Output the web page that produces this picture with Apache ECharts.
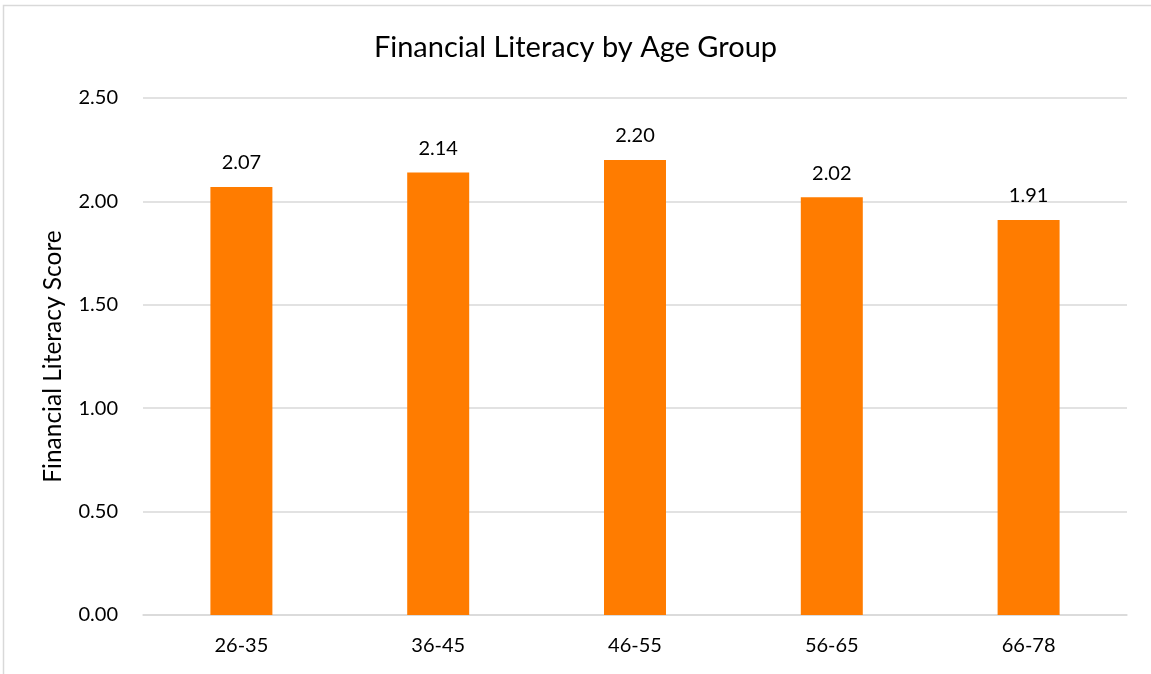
<!DOCTYPE html>
<html>
<head>
<meta charset="utf-8">
<script src="https://cdn.jsdelivr.net/npm/echarts@6/dist/echarts.min.js"></script>
<style>
  html, body { margin: 0; padding: 0; background: #fff; }
  #chart { width: 1151px; height: 674px; }
</style>
</head>
<body>
<div id="chart"></div>
<script>
// Average financial literacy score per age group
const ageGroups = ['26-35', '36-45', '46-55', '56-65', '66-78'];
const scores = [2.07, 2.14, 2.20, 2.02, 1.91];
const yTicks = [0, 0.5, 1.0, 1.5, 2.0, 2.5];

const font = 'Lato, "Open Sans", sans-serif';
const chart = echarts.init(document.getElementById('chart'), null, { renderer: 'canvas' });

chart.setOption({
  backgroundColor: '#fff',
  animation: false,
  graphic: [{
    // chart-area frame (extends past the canvas on the right and bottom)
    type: 'rect',
    shape: { x: 3.5, y: 5.5, width: 1200, height: 700 },
    style: { fill: 'none', stroke: '#d9d9d9', lineWidth: 1.5 },
    silent: true
  }],
  title: {
    text: 'Financial Literacy by Age Group',
    left: 'center',
    top: 28,
    textStyle: { fontFamily: font, fontSize: 29, fontWeight: 'normal', color: '#000' }
  },
  grid: { left: 143, right: 24, top: 98, bottom: 59, containLabel: false },
  xAxis: {
    type: 'category',
    data: ageGroups,
    axisLine: { lineStyle: { color: '#d9d9d9', width: 1.5 } },
    axisTick: { show: false },
    axisLabel: { fontFamily: font, fontSize: 20, color: '#000', margin: 21 }
  },
  yAxis: {
    type: 'value',
    min: yTicks[0],
    max: yTicks[yTicks.length - 1],
    interval: 0.5,
    name: 'Financial Literacy Score',
    nameLocation: 'middle',
    nameGap: 77,
    nameTextStyle: { fontFamily: font, fontSize: 24.5, color: '#000' },
    axisLine: { show: false },
    axisTick: { show: false },
    splitLine: { lineStyle: { color: '#d9d9d9', width: 1.5 } },
    axisLabel: {
      fontFamily: font, fontSize: 20, color: '#000', margin: 25,
      formatter: v => v.toFixed(2)
    }
  },
  series: [{
    type: 'bar',
    data: scores,
    barWidth: '31.5%',
    itemStyle: { color: '#ff7c00' },
    label: {
      show: true,
      position: 'top',
      distance: 14,
      fontFamily: font, fontSize: 20, color: '#000',
      formatter: p => p.value.toFixed(2)
    }
  }]
});
</script>
</body>
</html>
